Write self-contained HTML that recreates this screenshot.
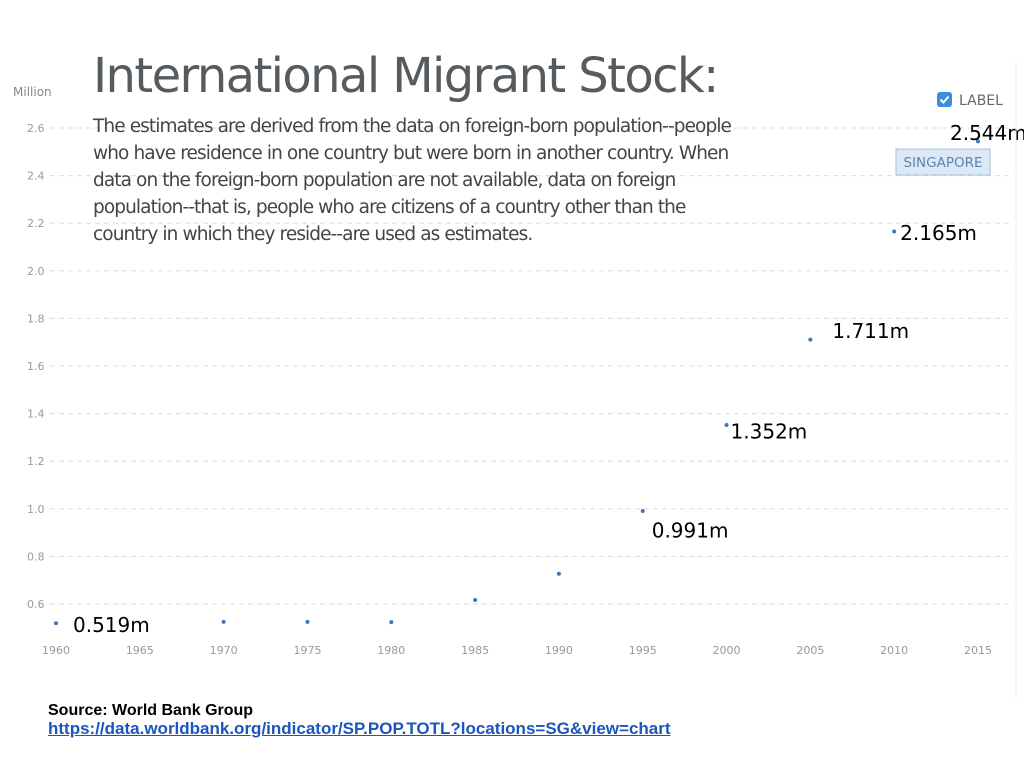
<!DOCTYPE html>
<html><head><meta charset="utf-8"><style>
body{margin:0;width:1024px;height:768px;background:#fff;overflow:hidden;font-family:"Liberation Sans",sans-serif;position:relative}
.title{position:absolute;left:93px;top:48px;font-size:48px;color:#555b5f;font-family:"DejaVu Sans","Liberation Sans",sans-serif;letter-spacing:-1.6px;font-weight:normal}
.desc{position:absolute;left:93px;top:113px;font-size:18.5px;line-height:27px;color:#444;width:650px;font-family:"DejaVu Sans","Liberation Sans",sans-serif;letter-spacing:-0.9px}
.src{position:absolute;left:48px;top:702px;font-size:16px;font-weight:bold;line-height:18px}
.src a{color:#1a55c0;text-decoration:underline;font-size:17px}
</style></head><body>
<svg width="1024" height="768" style="position:absolute;left:0;top:0" id="chart"></svg>
<div class="title">International Migrant Stock:</div>
<div class="desc">The estimates are derived from the data on foreign-born population--people who have residence in one country but were born in another country. When data on the foreign-born population are not available, data on foreign population--that is, people who are citizens of a country other than the country in which they reside--are used as estimates.</div>
<div class="src">Source: World Bank Group<br><a>https://data.worldbank.org/indicator/SP.POP.TOTL?locations=SG&amp;view=chart</a></div>
<script>
const years=[1960,1970,1975,1980,1985,1990,1995,2000,2005,2010,2015];
const values=[0.519,0.525,0.525,0.524,0.617,0.727,0.991,1.352,1.711,2.165,2.544];
const yTicks=[0.6,0.8,1.0,1.2,1.4,1.6,1.8,2.0,2.2,2.4,2.6];
const xTicks=[1960,1965,1970,1975,1980,1985,1990,1995,2000,2005,2010,2015];
const labelYears=[1960,1995,2000,2005,2010,2015];
const labelText=["0.519m","0.991m","1.352m","1.711m","2.165m","2.544m"];
const labelDx=[17,9,4,22,6,-28];
const labelDy=[3,21,8,-7,3,-7];
const NS="http://www.w3.org/2000/svg";
const svg=document.getElementById('chart');
const X=v=>56+(v-1960)*(978-56)/55;
const Y=v=>604-(v-0.6)*(604-128)/2.0;
function mk(t,a){const e=document.createElementNS(NS,t);for(const k in a)e.setAttribute(k,a[k]);svg.appendChild(e);return e;}
let t=mk('text',{x:13,y:96,'font-size':12,fill:'#888','font-family':'DejaVu Sans,sans-serif'});t.textContent='Million';


yTicks.forEach(v=>{
 const l=mk('line',{x1:50,x2:1012,y1:Y(v),y2:Y(v),stroke:'#ddd','stroke-dasharray':'5,4'});
 
 
 const tx=mk('text',{x:27,y:Y(v)+4,'font-size':11,fill:'#999','font-family':'DejaVu Sans,sans-serif'});
 tx.textContent=v.toFixed(1);
 
 
});
xTicks.forEach(v=>{
 const tx=mk('text',{x:X(v),y:654,'font-size':11,fill:'#999','text-anchor':'middle','font-family':'DejaVu Sans,sans-serif'});
 tx.textContent=v;
 
 
});
years.forEach((yr,i)=>{
 const c=mk('circle',{cx:X(yr),cy:Y(values[i]),r:2,fill:'#3d78b5'});
 
 
});
labelYears.forEach((yr,i)=>{
 const v=values[years.indexOf(yr)];
 const tx=mk('text',{x:X(yr)+labelDx[i],y:Y(v)+labelDy[i],'font-size':20,fill:'#000','font-family':'DejaVu Sans,sans-serif','dominant-baseline':'middle'});
 tx.textContent=labelText[i];
 
 
});
const cb=mk('rect',{x:937,y:92,width:15,height:15,rx:3,fill:'#3b8de0'});


mk('path',{d:'M940.5 99.5 l3 3 l5-6',stroke:'#fff','stroke-width':2,fill:'none'});
t=mk('text',{x:959,y:105,'font-size':14,fill:'#666','font-family':'DejaVu Sans,sans-serif'});t.textContent='LABEL';


const sb=mk('rect',{x:896,y:149,width:94,height:26,fill:'#dce8f4',stroke:'#9fbfdc'});


t=mk('text',{x:943,y:167,'font-size':13.5,fill:'#5a86b5','text-anchor':'middle','font-family':'DejaVu Sans,sans-serif'});t.textContent='SINGAPORE';


mk('line',{x1:1016,x2:1016,y1:60,y2:700,stroke:'#eee'});
</script>
</body></html>
